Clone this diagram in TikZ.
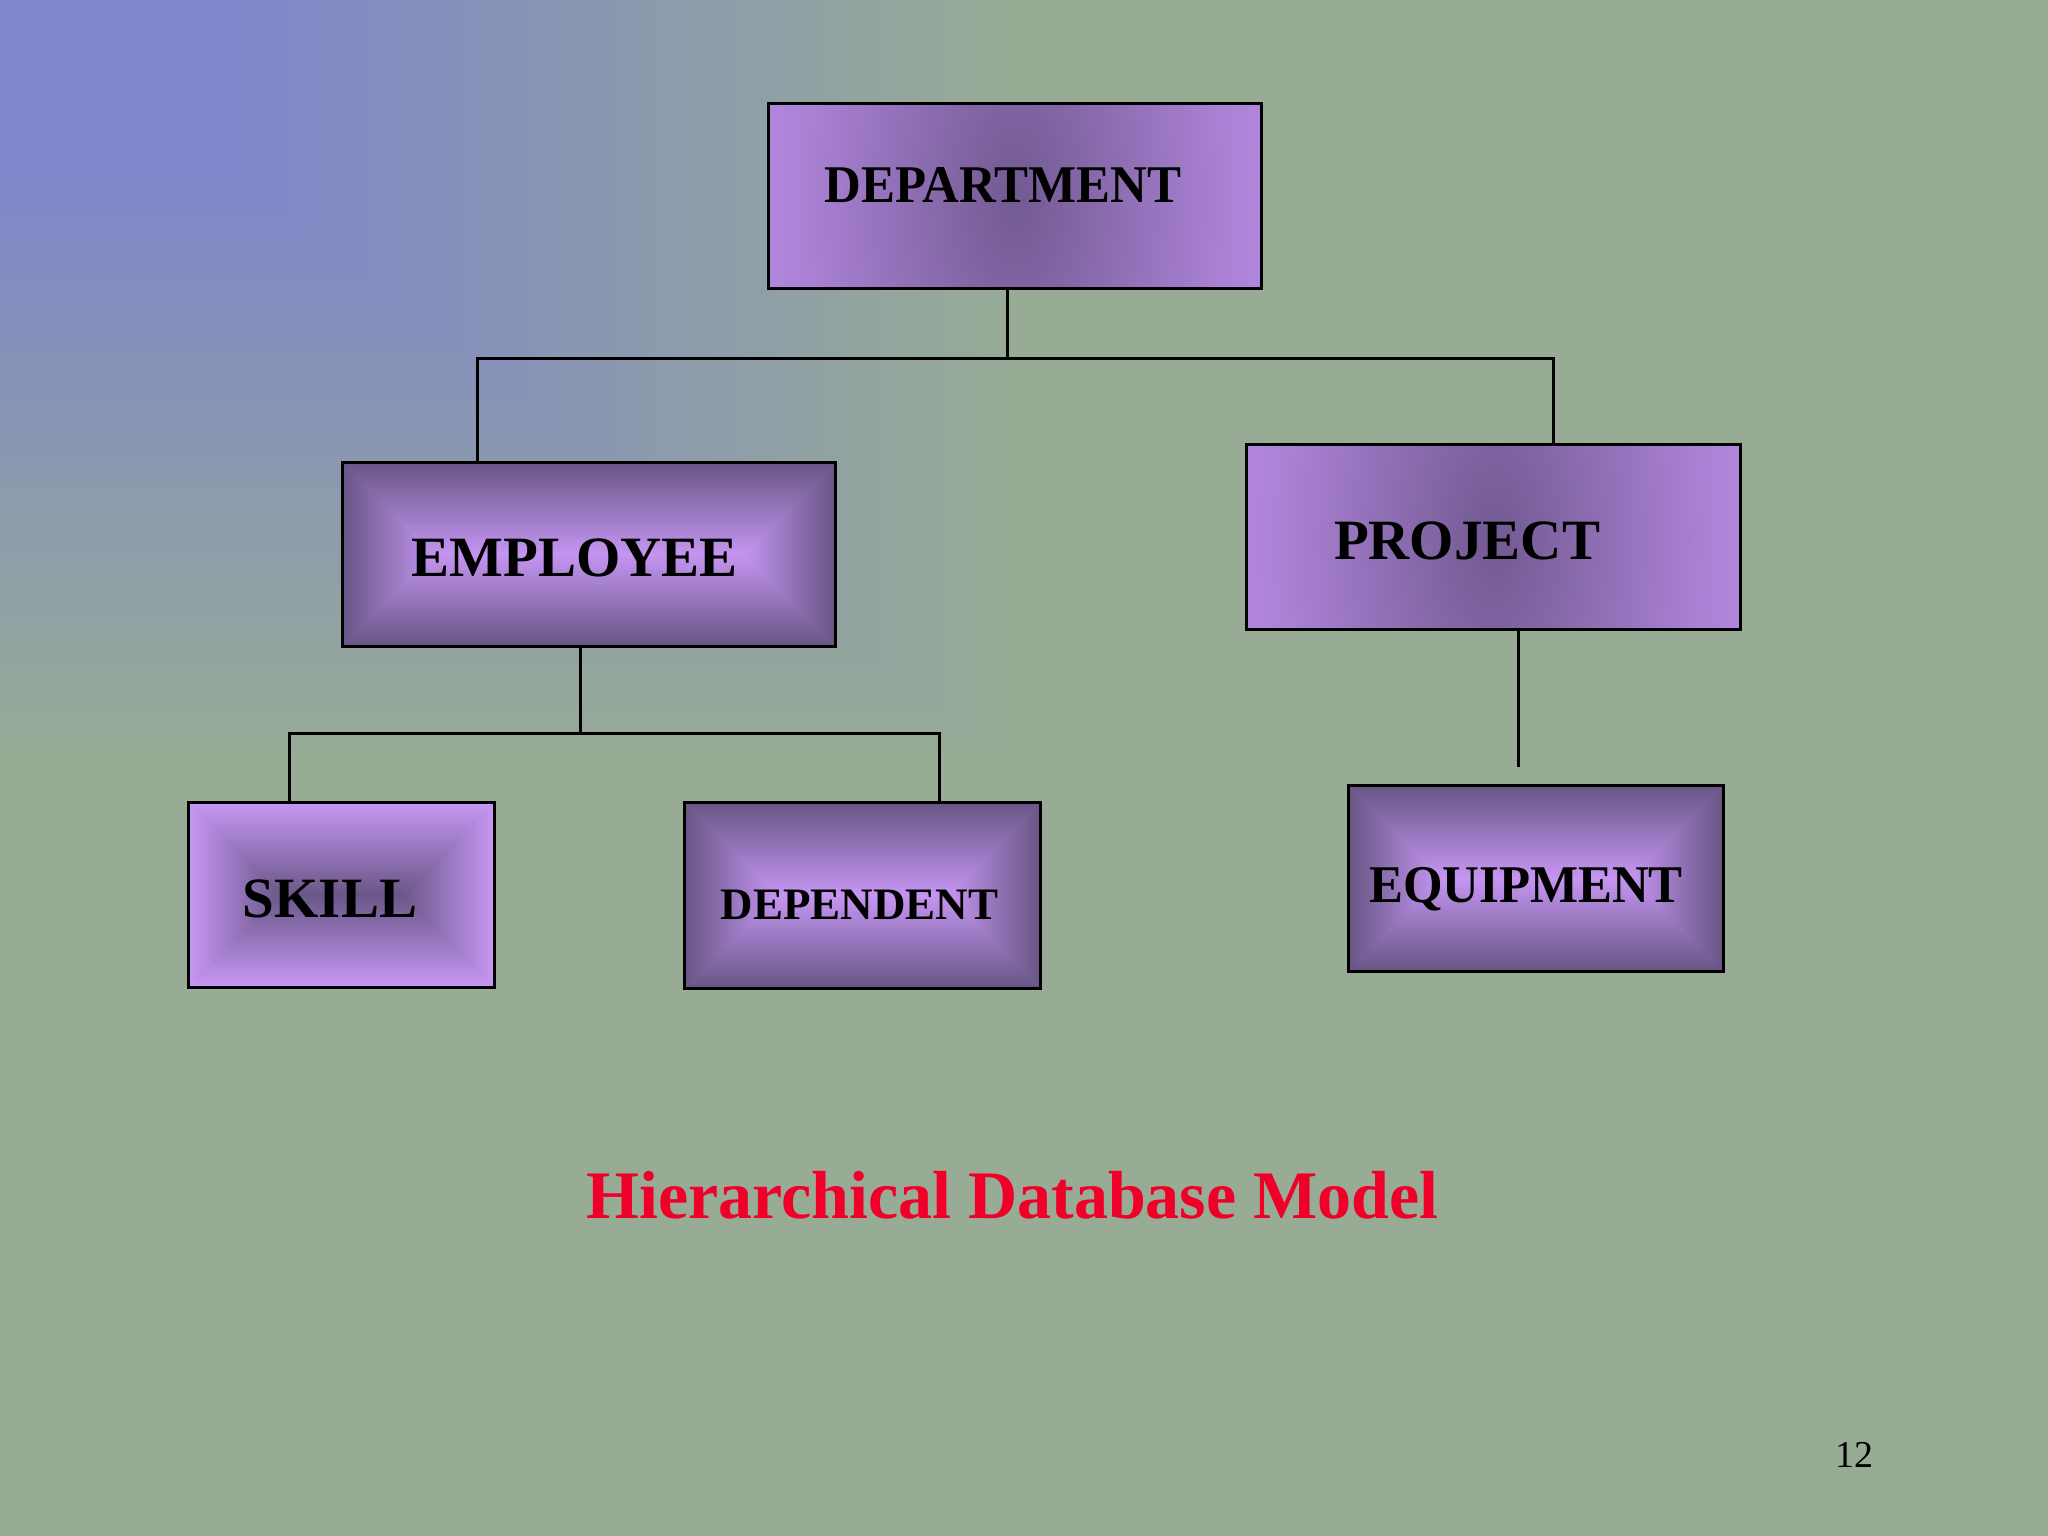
\documentclass[tikz,border=0pt]{standalone}
\usepackage{fontspec}
\setmainfont{Liberation Serif}
\usepackage{graphicx}
\usetikzlibrary{calc}
\definecolor{bggreen}{RGB}{151,171,149}
\definecolor{bgblue}{RGB}{127,134,202}
\definecolor{plight}{RGB}{198,150,243}
\definecolor{pdark}{RGB}{104,86,134}
\definecolor{cdark}{RGB}{114,90,146}
\definecolor{cmid}{RGB}{140,108,176}
\definecolor{cmidb}{RGB}{172,130,214}
\definecolor{titlered}{RGB}{240,0,40}
\pgfdeclareradialshading{centerglow}{\pgfpointorigin}{color(0bp)=(cdark); color(8bp)=(cmid); color(18bp)=(cmidb); color(34bp)=(plight); color(50bp)=(plight)}
\tikzset{
  box/.style={draw=black, line width=3pt, rectangle, inner sep=0pt},
  radialbox/.style={box, path picture={\shade[shading=centerglow] (path picture bounding box.center) ellipse (300pt and 560pt);}},
  framebox/.style 2 args={box, path picture={
      \foreach \k in {0,...,40}{
        \pgfmathsetmacro\ins{\k*2.32}
        \pgfmathsetmacro\pc{\k*2.5}
        \fill[#2!\pc!#1] ($(path picture bounding box.south west)+(\ins pt,\ins pt)$) rectangle ($(path picture bounding box.north east)-(\ins pt,\ins pt)$);
      }}},
  lbl/.style={anchor=base, inner sep=0pt, text=black},
  conn/.style={draw=black, line width=3pt},
}
\begin{document}
\begin{tikzpicture}[x=1pt,y=-1pt]
\useasboundingbox (0,0) rectangle (2048,1536);
% background
\fill[bggreen] (0,0) rectangle (2048,1536);
\foreach \i in {50,49,...,1}{
  \pgfmathsetmacro\t{\i*0.01}
  \pgfmathsetmacro\pc{max(0,min(100,(\t-0.12)/0.38*100))}
  \fill[bggreen!\pc!bgblue] (0,0) rectangle (\t*2048,\t*1536);
}
% boxes
\node[radialbox, minimum width=493pt, minimum height=185pt] (dept) at (1015,196) {};
\node[framebox={pdark}{plight}, minimum width=493pt, minimum height=184pt] (emp) at (589,554.5) {};
\node[radialbox, minimum width=494pt, minimum height=185pt] (proj) at (1493.5,537) {};
\node[framebox={plight}{pdark}, minimum width=306pt, minimum height=185pt] (skill) at (341.5,895) {};
\node[framebox={pdark}{plight}, minimum width=356pt, minimum height=186pt] (dep) at (862.5,895.5) {};
\node[framebox={pdark}{plight}, minimum width=375pt, minimum height=186pt] (equip) at (1536,878.5) {};
% connectors
\coordinate (busA) at (0,358);
\coordinate (busB) at (0,733);
\coordinate (projEnd) at (0,767);
\path ($(dept.south west)!0.484!(dept.south east)$) coordinate (deptB);
\path ($(emp.north west)!0.276!(emp.north east)$) coordinate (empT);
\path ($(proj.north west)!0.62!(proj.north east)$) coordinate (projT);
\path ($(emp.south west)!0.483!(emp.south east)$) coordinate (empB);
\path ($(skill.north west)!0.333!(skill.north east)$) coordinate (skillT);
\path ($(dep.north west)!0.714!(dep.north east)$) coordinate (depT);
\path ($(proj.south west)!0.551!(proj.south east)$) coordinate (projB);
\draw[conn] (deptB) -- (deptB |- busA) -| (empT);
\draw[conn] (deptB |- busA) -| (projT);
\draw[conn] (empB) -- (empB |- busB) -| (skillT);
\draw[conn] (empB |- busB) -| (depT);
\draw[conn] (projB) -- (projB |- projEnd);
% labels
\node[lbl, font={\fontsize{53pt}{60pt}\selectfont\bfseries}] (deptT) at (1003,202) {\scalebox{0.96}[1]{DEPARTMENT}};
\node[lbl, font={\fontsize{57pt}{64pt}\selectfont\bfseries}] (empL) at (574.5,576) {EMPLOYEE};
\node[lbl, font={\fontsize{57pt}{64pt}\selectfont\bfseries}] (projL) at (1467,559) {PROJECT};
\node[lbl, font={\fontsize{57pt}{64pt}\selectfont\bfseries}] (skillL) at (330,917) {SKILL};
\node[lbl, font={\fontsize{45pt}{52pt}\selectfont\bfseries}] (depL) at (859.5,919) {DEPENDENT};
\node[lbl, font={\fontsize{53pt}{60pt}\selectfont\bfseries}] (equipL) at (1526,902) {\scalebox{0.96}[1]{EQUIPMENT}};
\node[lbl, text=titlered, font={\fontsize{68pt}{76pt}\selectfont\bfseries}] (title) at (1012.5,1218) {Hierarchical Database Model};
\node[lbl, font={\fontsize{38pt}{44pt}\selectfont}] (pagenum) at (1854.5,1467) {12};
\end{tikzpicture}
\end{document}
